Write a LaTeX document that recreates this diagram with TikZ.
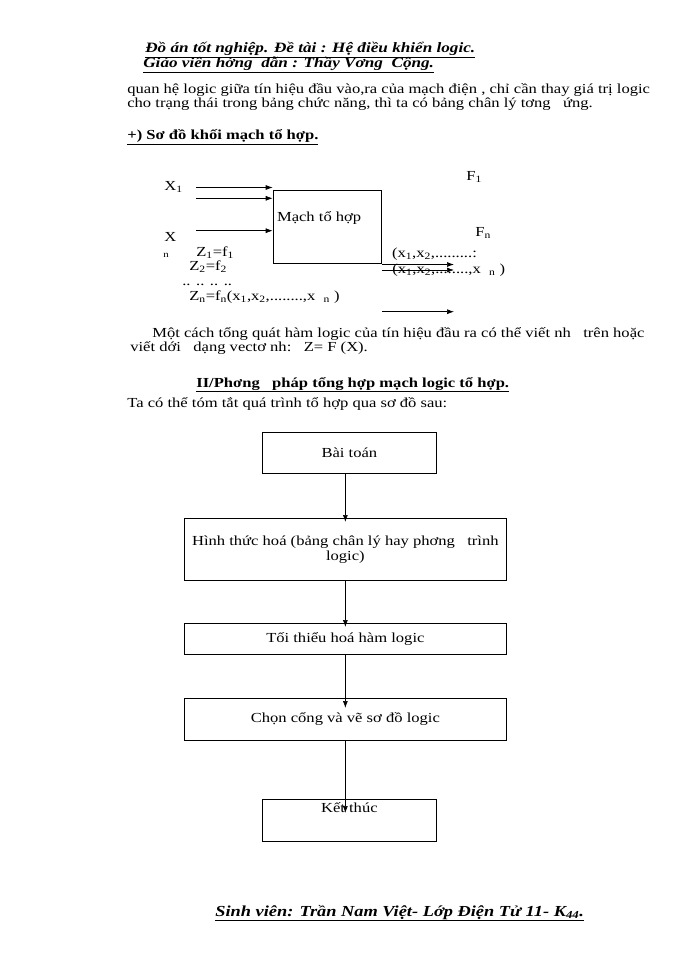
\documentclass[tikz,border=0pt]{standalone}
\usepackage{fontspec}
\setmainfont{Liberation Serif}[FakeStretch=1.2]
\usetikzlibrary{arrows.meta,positioning,calc}

\begin{document}
\begin{tikzpicture}[x=1pt, y=-1pt, line width=0.7pt, >={Latex[length=7pt,width=5pt]},
    every node/.style={font=\fontsize{13.8}{15}\selectfont},
    txt/.style={anchor=base west, inner sep=0pt},
    head/.style={txt, font=\fontsize{14.3}{16}\selectfont\bfseries\itshape},
    sect/.style={txt, font=\fontsize{13.8}{15}\selectfont\bfseries},
    small/.style={txt, font=\fontsize{9}{10}\selectfont},
    stepbox/.style={draw, inner sep=0pt, align=center, anchor=north west}]
    \useasboundingbox (0,0) rectangle (700,960);

    % page header
    \node[head] (hd1) at (145,53) {\underline{Đồ án tốt nghiệp. Đề tài : Hệ điều khiển logic.}};
    \node[head] (hd2) at (143,68) {\underline{Giáo viên hớng\ \ dẫn : Thầy Vơng\ \ Cộng.}};

    \node[txt] (p1) at (127,94) {quan hệ logic giữa tín hiệu đầu vào,ra của mạch điện , chỉ cần thay giá trị logic};
    \node[txt] (p2) at (127,108) {cho trạng thái trong bảng chức năng, thì ta có bảng chân lý tơng\ \ \ ứng.};
    \node[sect] (s1) at (127,140) {\underline{+) Sơ đồ khối mạch tổ hợp.}};

    % block diagram
    \node[stepbox, minimum width=108.6, minimum height=72.7] (mach) at (272.7,190) {};
    \node[txt] (machT) at (276.7,221.7) {Mạch tổ hợp};

    \coordinate (x1a) at (196,187.5);
    \coordinate (x1b) at (196,198.3);
    \coordinate (xna) at (196,230.7);
    \foreach \c in {x1a,x1b,xna}
        \draw[->] (\c) -- (\c -| mach.west);

    \coordinate (f1a) at (454,264.5);
    \coordinate (f1b) at (454,270);
    \coordinate (fna) at (454,311.7);
    \foreach \c in {f1a,f1b,fna}
        \draw[->] (mach.east |- \c) -- (\c);

    \node[txt] (lx1) at (164,190) {X\textsubscript{1}};
    \node[txt] (lxn) at (164,241.7) {X};
    \node[small] (lxnn) at (163,257) {n};
    \node[txt] (lf1) at (466,180.7) {F\textsubscript{1}};
    \node[txt] (lfn) at (475,236) {F\textsubscript{n}};
    \node[txt] (z1) at (196,256.7) {Z\textsubscript{1}=f\textsubscript{1}};
    \node[txt] (z2) at (189,270.7) {Z\textsubscript{2}=f\textsubscript{2}};
    \node[txt] (zd) at (182,285) {.. .. .. ..};
    \node[txt] (zn) at (189,300) {Z\textsubscript{n}=f\textsubscript{n}(x\textsubscript{1},x\textsubscript{2},........,x\ \ \textsubscript{n}\ )};
    \node[txt] (o1) at (391.7,257.3) {(x\textsubscript{1},x\textsubscript{2},.........:};
    \node[txt] (o2) at (392,273.3) {(x\textsubscript{1},x\textsubscript{2},........,x\ \ \textsubscript{n}\ )};

    \node[txt] (p3) at (152,337) {Một cách tổng quát hàm logic của tín hiệu đầu ra có thể viết nh\ \ \ trên hoặc};
    \node[txt] (p4) at (130,351) {viết dới\ \ \ dạng vectơ nh:\ \ \ Z= F (X).};
    \node[sect] (s2) at (196,387) {\underline{II/Phơng\ \ \ pháp tổng hợp mạch logic tổ hợp.}};
    \node[txt] (p5) at (127,407) {Ta có thể tóm tắt quá trình tổ hợp qua sơ đồ sau:};

    % flow chart
    \node[stepbox, minimum width=174, minimum height=41] (bai) at (262,432) {Bài toán};
    \node[stepbox, minimum width=322, minimum height=62] (hinh) at (184,518)
        {Hình thức hoá (bảng chân lý hay phơng\ \ \ trình\\logic)};
    \node[stepbox, minimum width=322, minimum height=31] (toi) at (184,623) {Tối thiểu hoá hàm logic};
    \node[stepbox, minimum width=322, minimum height=42] (chon) at (184,698) {Chọn cổng và vẽ sơ đồ logic};
    \node[stepbox, minimum width=174, minimum height=42] (ket) at (262,799) {};
    \node[anchor=north, inner sep=0pt] (ketT) at ($(ket.north)+(0,3)$) {Kết thúc};

    \draw[->] (bai.south -| hinh.north) -- ($(hinh.north)+(0,4)$);
    \draw[->] (hinh.south) -- ($(toi.north)+(0,4)$);
    \draw[->] (toi.south) -- ($(chon.north)+(0,10)$);
    \draw[->] (chon.south) -- ($(ket.north -| chon.south)+(0,14)$);

    \node[head, font=\fontsize{15.3}{17}\selectfont\bfseries\itshape] (ft) at (215,916)
        {\underline{Sinh viên: Trần Nam Việt- Lớp Điện Tử 11- K\textsubscript{44}.}};
\end{tikzpicture}
\end{document}
